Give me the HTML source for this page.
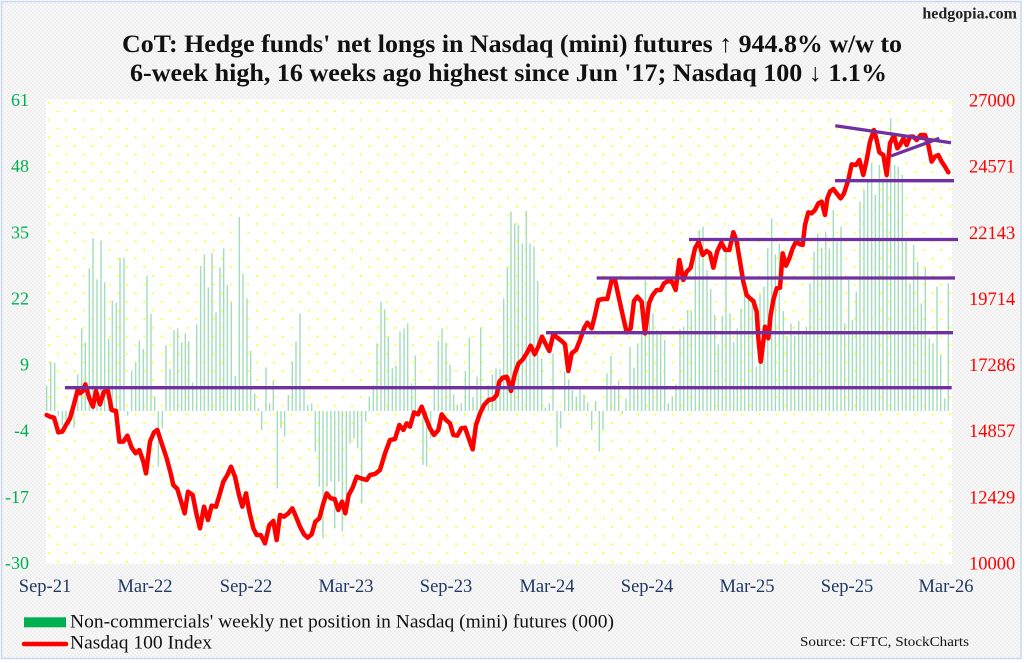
<!DOCTYPE html>
<html><head><meta charset="utf-8">
<style>html,body{margin:0;padding:0;background:#fff;width:1024px;height:663px;overflow:hidden}svg{display:block}</style>
</head>
<body>
<svg width="1024" height="663" viewBox="0 0 1024 663" xmlns="http://www.w3.org/2000/svg">
<defs>
<pattern id="dots" patternUnits="userSpaceOnUse" x="48.15" y="101.85" width="17.326" height="17.32">
<rect x="0" y="0" width="1.7" height="1.7" fill="#ffff00"/>
<rect x="8.663" y="8.66" width="1.7" height="1.7" fill="#ffff00"/>
</pattern>
<pattern id="chk" patternUnits="userSpaceOnUse" width="4" height="4"><rect width="4" height="4" fill="#f8f8f8"/><rect width="2" height="2" fill="#efefef"/><rect x="2" y="2" width="2" height="2" fill="#efefef"/></pattern>
</defs>
<rect x="1.5" y="1.5" width="1019.5" height="657" fill="url(#chk)" stroke="#c8d8ee" stroke-width="1.5"/>
<rect x="46" y="99.5" width="906" height="464" fill="#fff"/>
<rect x="46" y="99.5" width="906" height="464" fill="url(#dots)"/>

<!-- bars -->
<g transform="translate(40,95) scale(0.333333)">
<path vector-effect="non-scaling-stroke" stroke="#a2ddbd" stroke-width="1.4" fill="none" d="M20 948V872M32 948V800M44 948V803M55 948V962M67 948V990M78 948V975M90 948V990M102 948V998M113 948V838M125 948V700M136 948V742M148 948V520M159 948V430M171 948V553M183 948V437M194 948V562M206 948V732M217 948V617M229 948V623M240 948V488M252 948V488M263 948V962M275 948V826M287 948V802M298 948V736M310 948V762M321 948V541M333 948V657M344 948V905M355 948V1115M367 948V1000M378 948V750M390 948V822M402 948V705M413 948V700M425 948V742M436 948V715M446 948V738M458 948V862M470 948V688M482 948V513M493 948V478M505 948V577M516 948V474M528 948V652M540 948V517M551 948V460M562 948V570M574 948V622M586 948V843M598 948V366M609 948V537M621 948V610M632 948V768M644 948V895M655 948V940M665 948V1005M678 948V817M689 948V925M700 948V857M712 948V1180"/>
</g>
<g transform="translate(270,95) scale(0.333333)">
<path vector-effect="non-scaling-stroke" stroke="#a2ddbd" stroke-width="1.4" fill="none" d="M33 948V1000M44 948V1025M55 948V900M67 948V800M78 948V740M90 948V655M102 948V880M113 948V930M125 948V925M136 948V1070M148 948V1175M159 948V1330M171 948V1175M183 948V1160M194 948V1300M206 948V1160M217 948V1310M229 948V1200M240 948V1045M252 948V1030M263 948V1060M275 948V1225M287 948V980M298 948V905M310 948V870M321 948V745M333 948V620M344 948V643M355 948V725M367 948V818M378 948V812M390 948V710M402 948V700M413 948V685M425 948V865M436 948V782M448 948V940M459 948V1110M470 948V1115M482 948V1030M493 948V870M505 948V738M516 948V700M528 948V742M540 948V810M551 948V898M562 948V930M574 948V925M586 948V828M598 948V728M609 948V906M621 948V845M632 948V698M644 948V940M655 948V870M667 948V838M678 948V820M690 948V822M701 948V610M712 948V518"/>
</g>
<g transform="translate(500,95) scale(0.333333)">
<path vector-effect="non-scaling-stroke" stroke="#a2ddbd" stroke-width="1.4" fill="none" d="M33 948V350M44 948V385M55 948V390M67 948V445M79 948V348M90 948V445M102 948V455M113 948V558M125 948V790M136 948V938M148 948V925M159 948V775M171 948V1055M182 948V1000M194 948V830M206 948V855M217 948V885M229 948V905M240 948V882M252 948V898M263 948V922M275 948V1005M287 948V918M298 948V1070M309 948V1005M321 948V835M333 948V783M344 948V870M356 948V858M367 948V955M378 948V910M390 948V755M402 948V818M413 948V745M425 948V715M436 948V555M448 948V605M459 948V655M471 948V705M482 948V718M494 948V735M505 948V925M517 948V905M528 948V868M540 948V702M551 948V695M563 948V645M574 948V648M586 948V470M598 948V405M609 948V395M621 948V525M632 948V582M644 948V660M655 948V748M667 948V662M678 948V465M690 948V655M701 948V742M712 948V700"/>
</g>
<g transform="translate(730,95) scale(0.333333)">
<path vector-effect="non-scaling-stroke" stroke="#a2ddbd" stroke-width="1.4" fill="none" d="M33 948V640M44 948V598M56 948V605M67 948V615M79 948V815M90 948V598M102 948V575M113 948V460M125 948V370M136 948V478M148 948V445M160 948V648M171 948V725M183 948V685M194 948V722M206 948V678M217 948V720M229 948V695M240 948V565M252 948V470M263 948V415M275 948V458M287 948V410M298 948V460M310 948V345M321 948V440M333 948V395M344 948V685M356 948V555M367 948V675M379 948V590M390 948V320M402 948V285M413 948V255M425 948V205M436 948V300M448 948V210M459 948V250M471 948V240M482 948V70M494 948V210M505 948V215M517 948V240M528 948V435M540 948V565M551 948V450M563 948V500M574 948V625M586 948V518M598 948V730M609 948V745M621 948V575M632 948V780M644 948V910M655 948V565"/>
</g>

<!-- red line -->
<g fill="none" stroke="#ff0000" stroke-linejoin="round" stroke-linecap="round">
<g transform="translate(40,95) scale(0.333333)">
<polyline vector-effect="non-scaling-stroke" stroke-width="4.5" points="20,960 30,965 42,968 55,1012 67,1010 78,990 90,970 100,935 113,885 120,895 128,888 136,868 148,910 159,935 168,888 180,928 192,890 204,888 215,945 228,948 238,1040 250,1040 262,1022 275,1058 287,1075 298,1065 310,1100 318,1135 330,1040 342,1012 352,1005 365,1045 380,1090 392,1135 400,1170 412,1182 422,1215 434,1255 444,1190 458,1200 470,1260 480,1300 492,1235 504,1275 515,1232 528,1235 540,1195 550,1160 562,1140 573,1115 585,1145 597,1200 607,1235 618,1195 628,1250 640,1300 650,1320 662,1320 675,1345 688,1290 700,1278 710,1335"/>
</g>
<g transform="translate(270,95) scale(0.333333)">
<polyline vector-effect="non-scaling-stroke" stroke-width="4.5" points="20,1335 30,1260 42,1265 55,1255 67,1240 78,1265 90,1295 102,1318 113,1328 125,1318 136,1280 148,1270 160,1225 170,1195 182,1210 194,1212 205,1245 216,1220 226,1255 236,1200 248,1178 260,1145 272,1150 290,1155 300,1140 315,1137 330,1125 345,1075 360,1035 375,1032 388,990 400,1005 410,985 420,995 432,952 444,958 455,935 468,970 480,1000 492,1020 505,1005 515,958 528,975 540,985 550,1020 562,1022 574,1000 585,998 598,1035 608,1063 618,990 630,955 642,930 656,915 670,912 680,900 688,860 698,848 710,845"/>
</g>
<g transform="translate(500,95) scale(0.333333)">
<polyline vector-effect="non-scaling-stroke" stroke-width="4.5" points="12,848 22,848 33,888 45,835 56,805 67,795 80,775 92,752 104,778 115,755 126,725 136,745 148,768 160,718 172,728 185,738 195,748 205,828 215,775 228,765 240,735 252,700 262,683 275,700 285,660 295,615 310,612 322,612 335,555 345,555 357,610 368,660 380,712 392,700 402,618 412,605 425,620 435,715 447,625 458,600 470,585 482,585 492,565 505,558 516,560 527,585 538,495 550,555 560,530 572,518 585,460 596,440 608,480 620,468 630,475 640,518 652,468 664,443 676,465 688,465 700,412 712,445"/>
</g>
<g transform="translate(730,95) scale(0.333333)">
<polyline vector-effect="non-scaling-stroke" stroke-width="4.5" points="10,412 20,440 30,500 40,560 50,600 60,610 70,618 80,650 85,730 92,800 100,740 105,695 115,730 122,660 130,615 140,580 150,578 158,475 168,512 178,490 188,460 198,440 210,448 218,450 225,390 235,352 245,355 255,345 265,325 275,320 285,360 292,310 300,290 310,282 320,295 332,310 342,295 355,255 365,208 378,210 388,195 400,240 410,195 420,140 432,105 440,135 448,172 460,180 470,240 480,145 492,122 502,160 510,150 520,130 530,150 540,125 550,125 560,135 572,120 585,120 595,150 605,200 615,185 625,180 635,200 645,215 655,232"/>
</g>
</g>

<!-- purple lines -->
<g stroke="#7030a0" stroke-width="3.3" stroke-linecap="butt">
<line x1="65" y1="387.7" x2="951.7" y2="387.7"/>
<line x1="546" y1="332.7" x2="953" y2="332.7"/>
<line x1="596.7" y1="278" x2="955" y2="278"/>
<line x1="689" y1="239.5" x2="958" y2="239.5"/>
<line x1="835" y1="180.7" x2="954" y2="180.7"/>
<line x1="835.3" y1="125.7" x2="951" y2="142.7"/>
<line x1="891" y1="156" x2="939.3" y2="138.3"/>
</g>

<!-- texts -->
<g font-family="'Liberation Serif','DejaVu Serif',serif">
<text x="1017" y="18.5" text-anchor="end" font-size="16" font-weight="bold" fill="#222">hedgopia.com</text>
<text x="122" y="52" font-size="25" font-weight="bold" fill="#111" textLength="780" lengthAdjust="spacingAndGlyphs">CoT: Hedge funds' net longs in Nasdaq (mini) futures ↑ 944.8% w/w to</text>
<text x="130" y="81" font-size="25" font-weight="bold" fill="#111" textLength="757" lengthAdjust="spacingAndGlyphs">6-week high, 16 weeks ago highest since Jun '17; Nasdaq 100 ↓ 1.1%</text>

<g font-size="18" fill="#00b050" text-anchor="end">
<text x="29" y="106">61</text>
<text x="29" y="172.1">48</text>
<text x="29" y="238.3">35</text>
<text x="29" y="304.4">22</text>
<text x="29" y="370.6">9</text>
<text x="29" y="436.7">-4</text>
<text x="29" y="502.9">-17</text>
<text x="29" y="569">-30</text>
</g>
<g font-size="18.5" fill="#ff0000" text-anchor="start">
<text x="969" y="106.5">27000</text>
<text x="969" y="172.6">24571</text>
<text x="969" y="238.8">22143</text>
<text x="969" y="304.9">19714</text>
<text x="969" y="371.1">17286</text>
<text x="969" y="437.2">14857</text>
<text x="969" y="503.4">12429</text>
<text x="969" y="569.5">10000</text>
</g>
<g font-size="18.5" fill="#1f3864" text-anchor="middle">
<text x="45" y="592">Sep-21</text>
<text x="145" y="592">Mar-22</text>
<text x="246" y="592">Sep-22</text>
<text x="346" y="592">Mar-23</text>
<text x="446" y="592">Sep-23</text>
<text x="547" y="592">Mar-24</text>
<text x="647" y="592">Sep-24</text>
<text x="747" y="592">Mar-25</text>
<text x="847" y="592">Sep-25</text>
<text x="946" y="592">Mar-26</text>
</g>

<rect x="24" y="617.3" width="42" height="10" fill="#00b050"/>
<text x="70" y="627.5" font-size="19" fill="#111" textLength="544" lengthAdjust="spacingAndGlyphs">Non-commercials' weekly net position in Nasdaq (mini) futures (000)</text>
<line x1="24" y1="644" x2="66" y2="644" stroke="#ff0000" stroke-width="4.5" stroke-linecap="round"/>
<text x="70" y="648.3" font-size="19" fill="#111" textLength="142" lengthAdjust="spacingAndGlyphs">Nasdaq 100 Index</text>
<text x="800" y="646" font-size="14" fill="#111" textLength="169" lengthAdjust="spacingAndGlyphs">Source: CFTC, StockCharts</text>
</g>
</svg>
</body></html>
